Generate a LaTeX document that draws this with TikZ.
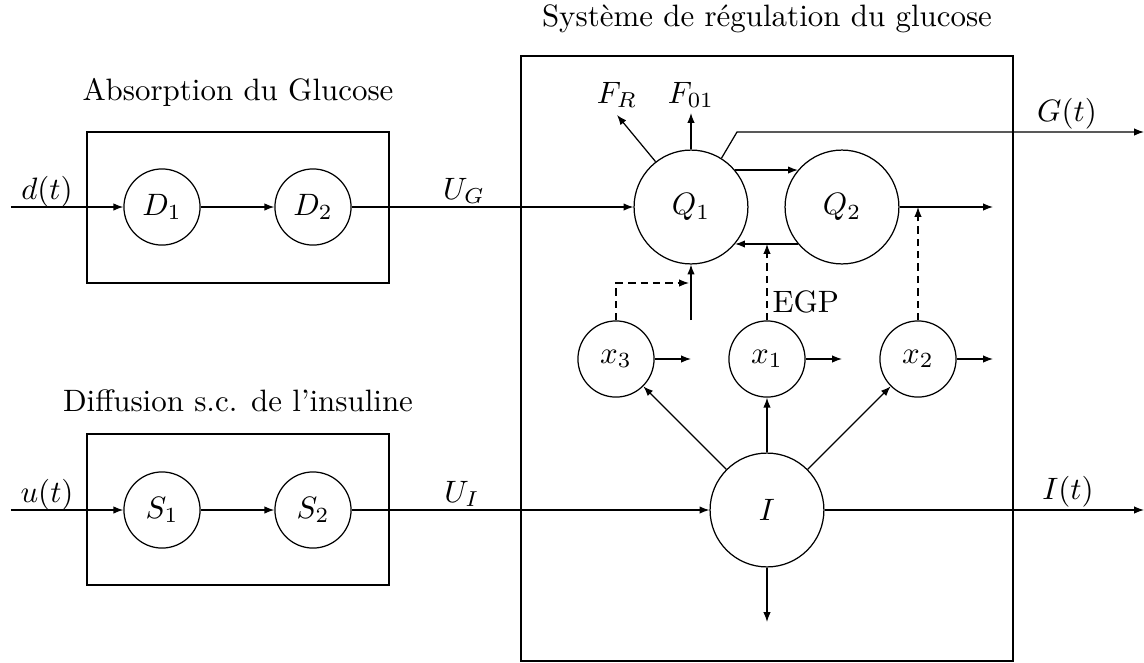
\documentclass[tikz,border=0pt]{standalone}
\usetikzlibrary{arrows.meta,calc}
\begin{document}
\begin{tikzpicture}[x=0.3232pt,y=-0.3232pt,
  circ/.style={draw,circle,inner sep=0pt},
  smallc/.style={circ,minimum size=24.6pt},
  bigc/.style={circ,minimum size=36.8pt},
  arr/.style={-{Latex[length=3.2pt,width=2.4pt]}},
  dsh/.style={dash pattern=on 2.4pt off 1.6pt},
  lbl/.style={anchor=base,inner sep=0pt}]
\useasboundingbox (0,0) rectangle (1144,662);

% boxes
\draw (87,132) rectangle (389,283);
\draw (87,434) rectangle (389,585);
\draw (521,56) rectangle (1013,661);

% titles
\node[lbl] (tA) at (238,100) {Absorption du Glucose};
\node[lbl] (tD) at (238,411) {Diffusion s.c. de l'insuline};
\node[lbl] (tS) at (767,26) {Système de régulation du glucose};

% nodes
\node[smallc] (D1) at (162,207) {$D_1$};
\node[smallc] (D2) at (313,207) {$D_2$};
\node[smallc] (S1) at (162,510) {$S_1$};
\node[smallc] (S2) at (313,510) {$S_2$};
\node[bigc] (Q1) at (691,207) {$Q_1$};
\node[bigc] (Q2) at (842,207) {$Q_2$};
\node[smallc] (x3) at (616,359) {$x_3$};
\node[smallc] (x1) at (767,359) {$x_1$};
\node[smallc] (x2) at (918,359) {$x_2$};
\node[bigc] (I) at (767,510) {$I$};

% free ends
\coordinate (din) at (11,207);
\coordinate (uin) at (11,510);
\coordinate (FR) at (617,115);
\coordinate (F01) at (691,113);
\coordinate (Gk) at (737,132);
\coordinate (Gout) at (1144,132);
\coordinate (Q2out) at (993,207);
\coordinate (x3j) at (689,283);
\coordinate (Qin) at (691,320);
\coordinate (x3out) at (691,359);
\coordinate (x1out) at (842,359);
\coordinate (x2out) at (993,359);
\coordinate (Idown) at (767,622);
\coordinate (Iout) at (1144,510);

% labels
\node[lbl] (ld) at (47,199) {$d(t)$};
\node[lbl] (lu) at (47,502) {$u(t)$};
\node[lbl] (lUG) at (464,199) {$U_G$};
\node[lbl] (lUI) at (462,502) {$U_I$};
\node[lbl] (lFR) at (617,103) {$F_R$};
\node[lbl] (lF01) at (691,103) {$F_{01}$};
\node[lbl] (lG) at (1067,121) {$G(t)$};
\node[lbl] (lI) at (1068,499) {$I(t)$};
\node[lbl,anchor=base west] (lEGP) at (772,312) {EGP};

% connectors
\draw[arr] (din) -- (D1);
\draw[arr] (D1) -- (D2);
\draw[arr] (D2) -- (Q1);
\draw[arr] (uin) -- (S1);
\draw[arr] (S1) -- (S2);
\draw[arr] (S2) -- (I);

\draw[arr] (Q1.40) -- (Q2.140);
\draw[arr] (Q2.220) -- (Q1.320);
\draw[arr] (Q1.128) -- (FR);
\draw[arr] (Q1.north) -- (F01);
\draw[arr] (Q1.58) -- (Gk) -- (Gout);
\draw[arr] (Q2.east) -- (Q2out);

\draw[arr,dsh] (x2.north) -- (x2.north |- Q2.east);
\draw[arr,dsh] (x1.north) -- (x1.north |- Q2.220);
\draw[arr,dsh] (x3.north) -- (x3.north |- x3j) -- (x3j);
\draw[arr] (Qin) -- (Q1.south);

\draw[arr] (x3.east) -- (x3out);
\draw[arr] (x1.east) -- (x1out);
\draw[arr] (x2.east) -- (x2out);

\draw[arr] (I.135) -- (x3);
\draw[arr] (I.north) -- (x1.south);
\draw[arr] (I.45) -- (x2);
\draw[arr] (I.south) -- (Idown);
\draw[arr] (I.east) -- (Iout);
\end{tikzpicture}
\end{document}
